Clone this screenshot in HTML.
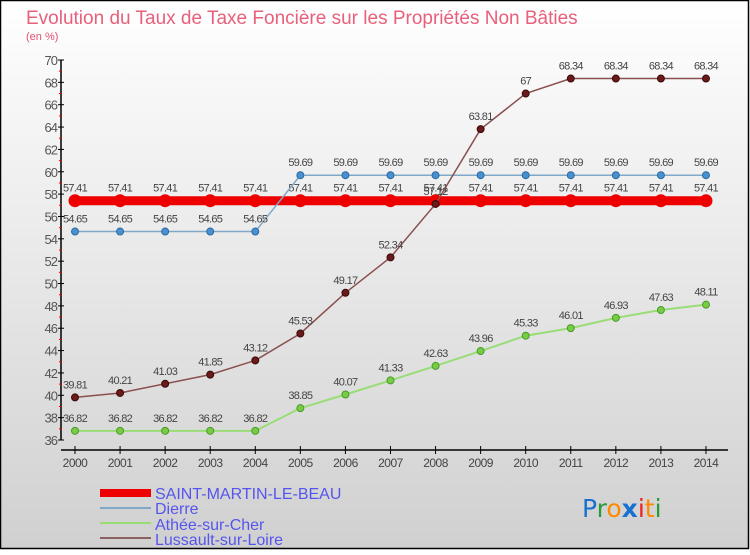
<!DOCTYPE html>
<html><head><meta charset="utf-8"><style>
body{margin:0}
#c{width:750px;height:550px;position:relative;font-family:"Liberation Sans",sans-serif}
</style></head><body>
<div id="c">
<svg id="s" width="750" height="550" xmlns="http://www.w3.org/2000/svg">
<defs><linearGradient id="bg" x1="0" y1="0" x2="0" y2="1"><stop offset="0" stop-color="#ffffff"/><stop offset="1" stop-color="#d0d0d0"/></linearGradient></defs>
<rect x="0.5" y="0.5" width="748" height="548" fill="url(#bg)" stroke="#000" stroke-width="1.5"/>
<text x="26" y="24" font-size="19" fill="#e8607a" font-weight="normal">Evolution du Taux de Taxe Foncière sur les Propriétés Non Bâties</text>
<text x="26" y="40" font-size="11" fill="#e05070">(en %)</text>
<g id="g"></g>
<g font-size="16" fill="#5555ee">
<rect x="100" y="489" width="51" height="8" fill="#ee0000"/><text x="155" y="499">SAINT-MARTIN-LE-BEAU</text>
<rect x="100" y="507" width="51" height="2" fill="#80a8c8"/><text x="155" y="514">Dierre</text>
<rect x="100" y="522" width="51" height="2" fill="#99dd77"/><text x="155" y="530">Athée-sur-Cher</text>
<rect x="100" y="537" width="51" height="2" fill="#8a6060"/><text x="155" y="545">Lussault-sur-Loire</text>
</g>
<g font-size="25" font-family="'DejaVu Sans',sans-serif">
<text x="582" y="517"><tspan fill="#1a70d0">P</tspan><tspan fill="#2a9a3a">r</tspan><tspan fill="#ff8800">o</tspan><tspan fill="#1a70d0" font-weight="bold">x</tspan><tspan fill="#ee2222">i</tspan><tspan fill="#ff8800">t</tspan><tspan fill="#2a9a3a">i</tspan></text>
</g>
</svg></div>
<script>
const years=[2000,2001,2002,2003,2004,2005,2006,2007,2008,2009,2010,2011,2012,2013,2014];
const saint=[57.41,57.41,57.41,57.41,57.41,57.41,57.41,57.41,57.41,57.41,57.41,57.41,57.41,57.41,57.41];
const dierre=[54.65,54.65,54.65,54.65,54.65,59.69,59.69,59.69,59.69,59.69,59.69,59.69,59.69,59.69,59.69];
const athee=[36.82,36.82,36.82,36.82,36.82,38.85,40.07,41.33,42.63,43.96,45.33,46.01,46.93,47.63,48.11];
const lussault=[39.81,40.21,41.03,41.85,43.12,45.53,49.17,52.34,57.12,63.81,67,68.34,68.34,68.34,68.34];
const yTicks=[36,38,40,42,44,46,48,50,52,54,56,58,60,62,64,66,68,70];
const NS="http://www.w3.org/2000/svg",g=document.getElementById('g');
const X=i=>75+i*45.07, Y=v=>440-(v-36)*380/34;
function el(t,a,p){const e=document.createElementNS(NS,t);for(const k in a)e.setAttribute(k,a[k]);(p||g).appendChild(e);return e;}
const ax=el('g',{});


el('line',{x1:61,y1:Y(70),x2:61,y2:Y(36),stroke:'#000','stroke-width':1.5},ax);
el('line',{x1:61,y1:450,x2:728,y2:450,stroke:'#000','stroke-width':1.5},ax);
yTicks.forEach(v=>{
 el('line',{x1:58,y1:Y(v),x2:64,y2:Y(v),stroke:'#000'},ax);
 if(v<70) el('line',{x1:59,y1:Y(v+1),x2:62,y2:Y(v+1),stroke:'#e00'},ax);
 const t=el('text',{x:57,y:Y(v)+5,'text-anchor':'end','font-size':13,fill:'#555','letter-spacing':'-1'},ax);
 
 
 t.textContent=v;
});
years.forEach((y,i)=>{
 el('line',{x1:X(i),y1:446,x2:X(i),y2:454,stroke:'#000'},ax);
 const t=el('text',{x:X(i),y:467,'text-anchor':'middle','font-size':12,fill:'#444','letter-spacing':'-0.5'},ax);
 
 
 t.textContent=y;
});
function series(name,vals,col,w,dot,dotStroke,r){
 const sg=el('g',{});
 
 
 el('polyline',{points:vals.map((v,i)=>X(i)+','+Y(v)).join(' '),fill:'none',stroke:col,'stroke-width':w},sg);
 vals.forEach((v,i)=>{
  const c=el('circle',{cx:X(i),cy:Y(v),r:r,fill:dot,stroke:dotStroke},sg);
  
  
  const t=el('text',{x:X(i),y:Y(v)-9,'text-anchor':'middle','font-size':11,fill:'#444','letter-spacing':'-0.7'},sg);
  
  
  t.textContent=v;
 });
}
series('saint-martin-series',saint,'#ee0000',9,'#ee0000','#ee0000',6);
series('dierre-series',dierre,'#80a8c8',1.5,'#4a90d0','#2a6aa0',3.5);
series('athee-series',athee,'#99dd77',2,'#77cc44','#4a9a2a',3.5);
series('lussault-series',lussault,'#8a5050',1.5,'#6a1a1a','#3a0a0a',3.5);
</script>
</body></html>
